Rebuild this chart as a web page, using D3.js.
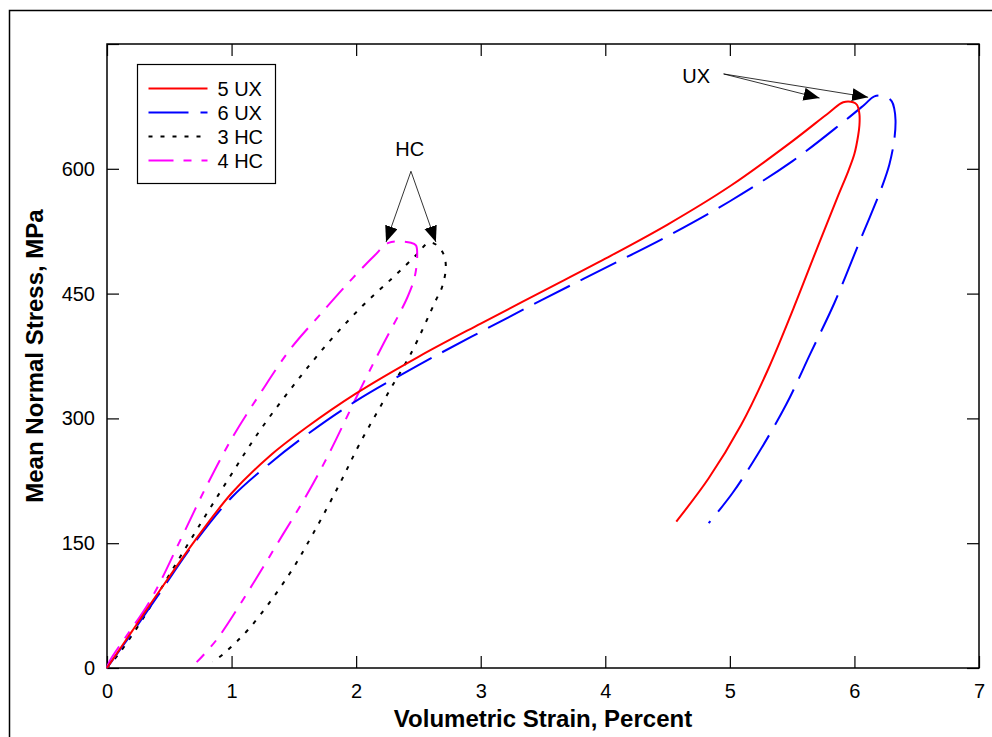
<!DOCTYPE html>
<html>
<head>
<meta charset="utf-8">
<script src="https://cdn.jsdelivr.net/npm/d3@7"></script>
<style>
  body { margin: 0; background: #fff; }
  text { font-family: "Liberation Sans", Arial, sans-serif; }
</style>
</head>
<body>
<div id="chart"></div>
<script>
// data: [volumetric strain %, mean normal stress MPa]
var ux5 = [[0,0],[0.2,44],[0.4,88],[0.7,152],[1.0,210],[1.3,254],[1.6,289],[2.0,330],[2.5,374],[3.0,414],
  [3.5,453],[4.0,492],[4.5,533],[5.0,579],[5.5,633],[5.8,668],[5.91,680],[5.99,680],[6.02,677],[6.04,666],[6.04,652],
  [6.03,640],[6.0,618],[5.95,597],[5.87,568],[5.72,512],[5.51,432],[5.31,360],[5.09,292],[4.83,228],[4.57,176]];
var ux6 = [[0,0],[0.2,42],[0.4,85],[0.7,150],[1.0,205],[1.3,245],[1.6,280],[2.0,321],[2.5,364],[3.0,404],
  [3.5,443],[4.0,481],[4.5,519],[5.0,561],[5.5,609],[5.9,655],[6.08,677],[6.16,687],[6.25,687],[6.3,681],[6.32,672],[6.33,658],
  [6.32,635],[6.28,605],[6.22,578],[6.14,548],[6.04,512],[5.84,439],[5.65,379],[5.45,316],[5.22,256],[5.02,210],[4.83,174]];
var hc3 = [[0,0],[0.1,18],[0.3,62],[0.5,112],[0.72,166],[0.97,226],[1.23,286],[1.53,346],[1.8,395],[2.05,435],
  [2.3,470],[2.48,496],[2.58,511],[2.64,509],[2.7,498],[2.72,482],[2.69,458],[2.64,442],[2.44,378],[2.27,334],
  [2.03,270],[1.87,222],[1.66,163],[1.46,112],[1.15,49],[0.95,19],[0.85,7]];
var hc4 = [[0,0],[0.02,8],[0.35,82],[0.59,154],[0.79,216],[1.01,278],[1.23,330],[1.47,383],[1.7,423],[1.95,465],
  [2.15,496],[2.26,511],[2.44,511],[2.48,508],[2.49,495],[2.47,470],[2.41,445],[2.22,390],[2.03,334],
  [1.77,254],[1.58,202],[1.41,160],[1.15,96],[0.88,34],[0.72,7]];

var seriesNames = ["5 UX", "6 UX", "3 HC", "4 HC"];
var seriesData = [ux5, ux6, hc3, hc4];
var seriesColors = ["#ff0000", "#0000ff", "#000000", "#ff00ff"];
var seriesDash = ["none", "40,12", "4,8", "25,10,8,10"];

var xTicks = [0, 1, 2, 3, 4, 5, 6, 7];
var yTicks = [0, 150, 300, 450, 600, 750];
var yLabels = [0, 150, 300, 450, 600];

// callouts, in data units: label position, arrow start, arrow tips
var callouts = [
  { text: "UX", lx: 4.73, ly: 703, from: [4.95, 714], tips: [[5.72, 685], [6.11, 686]] },
  { text: "HC", lx: 2.43, ly: 615, from: [2.44, 597], tips: [[2.24, 512], [2.64, 512]] }
];

var W = 992, H = 737;
var margin = { top: 44, right: 13, bottom: 69, left: 107 };
var width = W - margin.left - margin.right,
    height = H - margin.top - margin.bottom;

var svg = d3.select("#chart").append("svg")
    .attr("width", W)
    .attr("height", H);

// outer frame
svg.append("rect")
    .attr("x", 9.5).attr("y", 10.5)
    .attr("width", 1000).attr("height", 800)
    .attr("fill", "none").attr("stroke", "#000").attr("stroke-width", 1.5);

var defs = svg.append("defs");
defs.append("marker")
    .attr("id", "head")
    .attr("markerUnits", "userSpaceOnUse")
    .attr("markerWidth", 18).attr("markerHeight", 14)
    .attr("refX", 16).attr("refY", 6.5)
    .attr("orient", "auto")
  .append("path")
    .attr("d", "M0,0 L16,6.5 L0,13 Z")
    .attr("fill", "#000");

var g = svg.append("g")
    .attr("transform", "translate(" + margin.left + "," + margin.top + ")");

var x = d3.scaleLinear().domain([0, 7]).range([0, width]);
var y = d3.scaleLinear().domain([0, 750]).range([height, 0]);

// axes with inward ticks on all four sides
g.append("g")
    .attr("transform", "translate(0," + height + ")")
    .call(d3.axisBottom(x).tickValues(xTicks).tickSizeInner(-12).tickSizeOuter(0).tickPadding(16)
      .tickFormat(d3.format("d")));
g.append("g")
    .call(d3.axisTop(x).tickValues(xTicks).tickSizeInner(-12).tickSizeOuter(0).tickFormat(""));
g.append("g")
    .call(d3.axisLeft(y).tickValues(yTicks).tickSizeInner(-12).tickSizeOuter(0).tickPadding(12)
      .tickFormat(function (d) { return yLabels.indexOf(d) >= 0 ? d : ""; }));
g.append("g")
    .attr("transform", "translate(" + width + ",0)")
    .call(d3.axisRight(y).tickValues(yTicks).tickSizeInner(-12).tickSizeOuter(0).tickFormat(""));

g.selectAll(".domain").remove();
g.selectAll(".tick line").attr("stroke", "#000").attr("stroke-width", 1.2);
g.selectAll(".tick text").attr("fill", "#000").style("font-size", "20px")
    .style("font-family", "'Liberation Sans', Arial, sans-serif");

g.append("rect")
    .attr("width", width).attr("height", height)
    .attr("fill", "none").attr("stroke", "#000").attr("stroke-width", 1.5);

var line = d3.line()
    .x(function (d) { return x(d[0]); })
    .y(function (d) { return y(d[1]); })
    .curve(d3.curveCatmullRom.alpha(0.5));

// draw back to front so red sits on top like the source
[2, 3, 1, 0].forEach(function (i) {
  g.append("path")
      .datum(seriesData[i])
      .attr("d", line)
      .attr("fill", "none")
      .attr("stroke", seriesColors[i])
      .attr("stroke-width", 2)
      .attr("stroke-dasharray", seriesDash[i]);
});

// callouts
callouts.forEach(function (c) {
  g.append("text")
      .attr("x", x(c.lx)).attr("y", y(c.ly))
      .attr("text-anchor", "middle")
      .style("font-size", "20px")
      .text(c.text);
  c.tips.forEach(function (t) {
    g.append("line")
        .attr("x1", x(c.from[0])).attr("y1", y(c.from[1]))
        .attr("x2", x(t[0])).attr("y2", y(t[1]))
        .attr("stroke", "#000").attr("stroke-width", 0.8)
        .attr("marker-end", "url(#head)");
  });
});

// legend
var legend = svg.append("g").attr("transform", "translate(137.5,64.5)");
legend.append("rect")
    .attr("width", 138).attr("height", 119)
    .attr("fill", "#fff").attr("stroke", "#000").attr("stroke-width", 1.2);
seriesNames.forEach(function (name, i) {
  var yy = 24 + i * 24;
  legend.append("line")
      .attr("x1", 11).attr("x2", 70).attr("y1", yy).attr("y2", yy)
      .attr("stroke", seriesColors[i]).attr("stroke-width", 2)
      .attr("stroke-dasharray", seriesDash[i]);
  legend.append("text")
      .attr("x", 80).attr("y", yy + 7)
      .style("font-size", "20px")
      .text(name);
});

// axis titles
svg.append("text")
    .attr("x", margin.left + width / 2).attr("y", 727)
    .attr("text-anchor", "middle")
    .style("font-size", "24px").style("font-weight", "bold")
    .text("Volumetric Strain, Percent");
svg.append("text")
    .attr("transform", "translate(43,356) rotate(-90)")
    .attr("text-anchor", "middle")
    .style("font-size", "24px").style("font-weight", "bold")
    .text("Mean Normal Stress, MPa");
</script>
</body>
</html>
